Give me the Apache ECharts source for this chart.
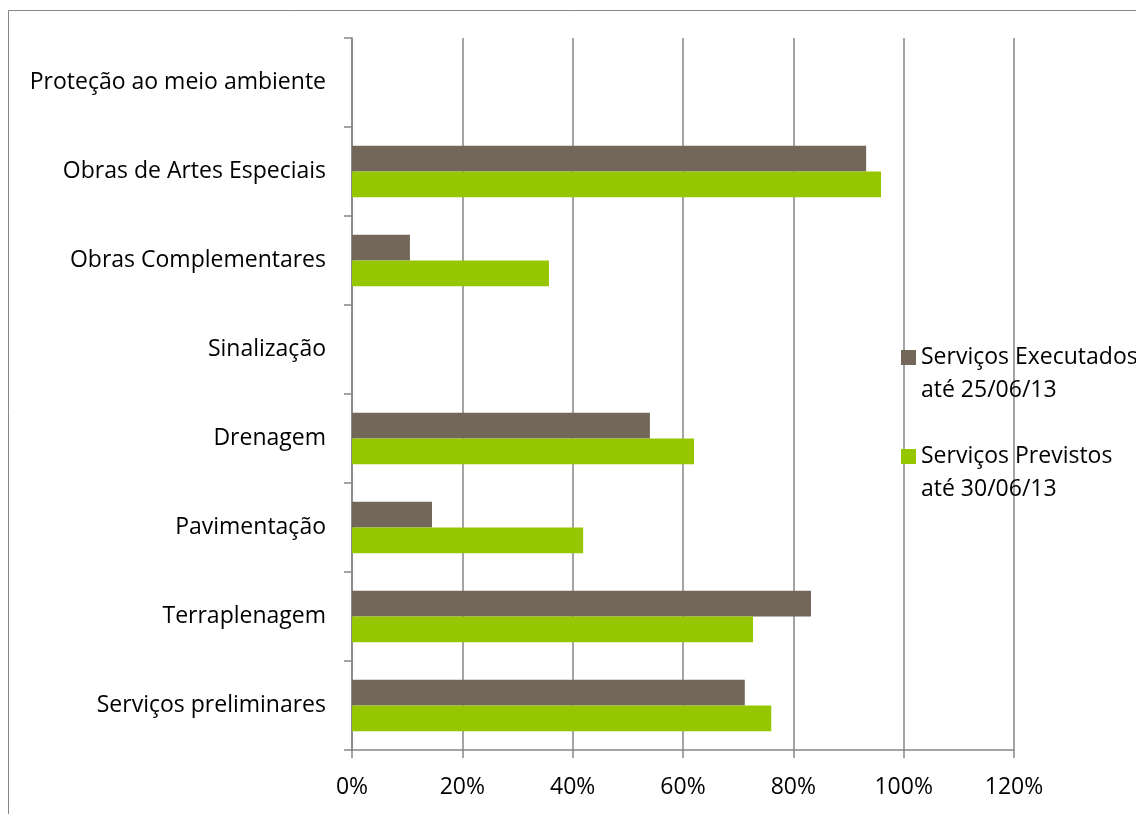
<!DOCTYPE html>
<html>
<head>
<meta charset="utf-8">
<script src="https://cdn.jsdelivr.net/npm/echarts@6/dist/echarts.min.js"></script>
<style>
  html, body { margin: 0; padding: 0; background: #fff; }
  #chart { width: 1136px; height: 814px; }
</style>
</head>
<body>
<div id="chart"></div>
<script>
// categories, bottom to top as on the axis
const categories = [
  "Serviços preliminares",
  "Terraplenagem",
  "Pavimentação",
  "Drenagem",
  "Sinalização",
  "Obras Complementares",
  "Obras de Artes Especiais",
  "Proteção ao meio ambiente"
];
const executados = [0.712, 0.832, 0.145, 0.54, 0, 0.105, 0.932, 0];
const previstos = [0.76, 0.727, 0.419, 0.62, 0, 0.357, 0.959, 0];
const nameExec = "Serviços Executados\naté 25/06/13";
const namePrev = "Serviços Previstos\naté 30/06/13";

const font = "Open Sans";
const fontSize = 23;
const axisGray = "#868686";

let chart = echarts.init(document.getElementById("chart"));
chart.setOption({
  animation: false,
  textStyle: { fontFamily: font },
  graphic: [
    {
      type: "rect",
      shape: { x: 8.5, y: 10.5, width: 1300, height: 1000 },
      style: { fill: "none", stroke: axisGray, lineWidth: 1 },
      silent: true
    }
  ],
  grid: { left: 352, right: 122, top: 38, bottom: 64 },
  legend: {
    orient: "vertical",
    left: 901,
    top: 308,
    padding: 0,
    itemWidth: 15,
    itemHeight: 15,
    itemGap: 0,
    icon: "rect",
    data: [nameExec, namePrev],
    // blank first line keeps the square level with the first text line
    formatter: function (name) { return " \n" + name; },
    textStyle: {
      fontFamily: font,
      fontSize: fontSize,
      color: "#000",
      lineHeight: 33
    }
  },
  xAxis: {
    type: "value",
    min: 0,
    max: 1.2,
    interval: 0.2,
    axisLine: { show: true, lineStyle: { color: axisGray, width: 1.5 } },
    axisTick: { show: true, length: 8, lineStyle: { color: axisGray, width: 1.5 } },
    splitLine: { show: true, lineStyle: { color: axisGray, width: 1.5 } },
    axisLabel: {
      fontFamily: font,
      fontSize: fontSize,
      color: "#000",
      margin: 26,
      formatter: function (v) { return Math.round(v * 100) + "%"; }
    }
  },
  yAxis: {
    type: "category",
    data: categories,
    axisLine: { show: true, lineStyle: { color: axisGray, width: 1.5 } },
    axisTick: { show: true, length: 8, lineStyle: { color: axisGray, width: 1.5 } },
    axisLabel: {
      fontFamily: font,
      fontSize: fontSize,
      color: "#000",
      margin: 26
    }
  },
  series: [
    {
      name: nameExec,
      type: "bar",
      data: executados,
      barGap: "0%",
      barCategoryGap: "42%",
      itemStyle: { color: "#726758" }
    },
    {
      name: namePrev,
      type: "bar",
      data: previstos,
      barGap: "0%",
      barCategoryGap: "42%",
      itemStyle: { color: "#95c600" }
    }
  ]
});
</script>
</body>
</html>
